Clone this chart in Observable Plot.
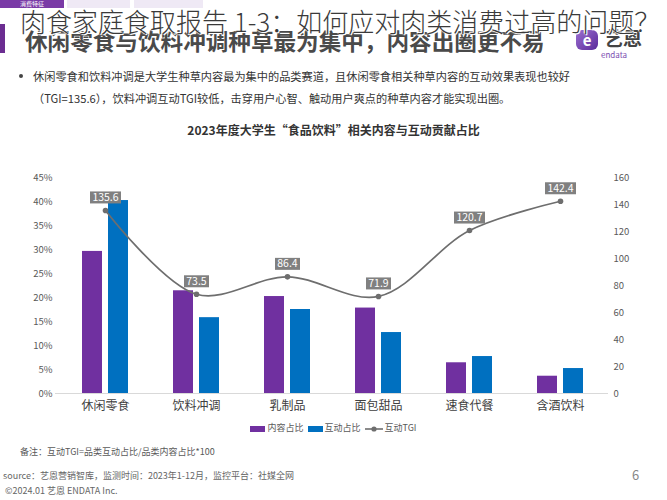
<!DOCTYPE html>
<html>
<head>
<meta charset="utf-8">
<script src="https://cdn.jsdelivr.net/npm/d3@7"></script>
<script src="https://cdn.jsdelivr.net/npm/@observablehq/plot@0.6"></script>
<style>
  html, body { margin:0; padding:0; background:#fff; }
  body { width:667px; height:500px; position:relative; overflow:hidden;
         font-family:"Noto Sans CJK SC","Noto Sans",sans-serif; color:#333; }
  .abs { position:absolute; white-space:nowrap; }
  .tab { position:absolute; top:0; height:8px; font-size:6px; line-height:8px; text-align:center; }
  .sw { display:inline-block; width:15px; height:6px; vertical-align:middle; margin-right:2px; }
</style>
</head>
<body>
<div class="tab" style="left:0;width:64px;background:#7a3aa6;color:#fff;">消费特征</div>
<div class="tab" style="left:67px;width:63px;background:#efe9f5;"></div>
<div class="tab" style="left:134px;width:69px;background:#efe9f5;"></div>
<div class="abs" style="left:0;top:24px;width:5px;height:29px;background:#6b2d91;"></div>
<div class="abs" style="left:25px;top:28px;font-size:22.6px;line-height:26px;font-weight:700;color:#4a4a4a;">休闲零食与饮料冲调种草最为集中，内容出圈更不易</div>
<div class="abs" style="left:576px;top:30px;width:22px;height:20px;border-radius:6px;background:linear-gradient(135deg,#9b6fd0,#5b2a9a);color:#fff;font-size:15px;line-height:19px;text-align:center;font-weight:700;">e</div>
<div class="abs" style="left:604px;top:27px;font-size:19px;line-height:22px;font-weight:700;color:#444;">艺恩</div>
<div class="abs" style="left:601px;top:50px;font-size:8px;line-height:9px;color:#7a4bb0;">endata</div>

<div class="abs" style="left:19px;top:74px;width:4px;height:4px;border-radius:2px;background:#444;"></div>
<div class="abs" style="left:33px;top:65px;font-size:11.2px;line-height:22px;color:#333;">休闲零食和饮料冲调是大学生种草内容最为集中的品类赛道，且休闲零食相关种草内容的互动效果表现也较好<br>（TGI=135.6），饮料冲调互动TGI较低，击穿用户心智、触动用户爽点的种草内容才能实现出圈。</div>

<div class="abs" style="left:0;width:667px;top:122px;text-align:center;font-size:12px;line-height:16px;font-weight:700;color:#333;">2023年度大学生“食品饮料”相关内容与互动贡献占比</div>

<div id="chart" class="abs" style="left:0;top:150px;"></div>

<div id="legend" class="abs" style="left:0;width:667px;top:422px;text-align:center;font-size:9px;line-height:12px;color:#595959;"></div>

<div class="abs" style="left:20px;top:446px;font-size:9px;line-height:12px;color:#595959;">备注：互动TGI=品类互动占比/品类内容占比*100</div>
<div class="abs" style="left:3px;top:470px;font-size:9px;line-height:12px;color:#666;">source：艺恩营销智库，监测时间：2023年1-12月，监控平台：社媒全网</div>
<div class="abs" style="left:632px;top:467px;font-size:13px;line-height:16px;color:#888;">6</div>
<div class="abs" style="left:5px;top:485px;font-size:9px;line-height:12px;color:#666;">©2024.01  艺恩 ENDATA Inc.</div>

<div class="abs" style="left:20px;top:7px;font-size:26px;line-height:28px;font-weight:300;color:#3a3a3a;text-shadow:0 0 2px #fff,0 0 2px #fff,1px 1px 0 #fff,-1px -1px 0 #fff;">肉食家庭食取报告 1-3：如何应对肉类消费过高的问题？</div>

<script>
const categories = ["休闲零食","饮料冲调","乳制品","面包甜品","速食代餐","含酒饮料"];
const contentShare = [29.6, 21.4, 20.2, 17.8, 6.4, 3.6];
const interactShare = [40.2, 15.8, 17.5, 12.7, 7.7, 5.2];
const tgi = [135.6, 73.5, 86.4, 71.9, 120.7, 142.4];
const leftTicks = [0, 5, 10, 15, 20, 25, 30, 35, 40, 45];
const rightTicks = [0, 20, 40, 60, 80, 100, 120, 140, 160];
const seriesNames = ["内容占比", "互动占比", "互动TGI"];

const PURPLE = "#7030a0", BLUE = "#0070c0", GREY = "#6e6e6e", BOX = "#808080";
const LEFT_MAX = 45, RIGHT_MAX = 160;
const toLeft = v => v * LEFT_MAX / RIGHT_MAX;

const data = categories.map((c, i) => ({
  cat: c, content: contentShare[i], interact: interactShare[i], tgi: tgi[i],
  label: tgi[i].toFixed(1)
}));

const boxSymbol = w => ({ draw(ctx) { ctx.rect(-w / 2, -6, w, 12); } });

const chart = Plot.plot({
  width: 667, height: 270,
  marginTop: 27, marginBottom: 27, marginLeft: 58, marginRight: 59,
  style: { fontFamily: "'Noto Sans CJK SC','Noto Sans',sans-serif", color: "#595959", background: "transparent" },
  x: { domain: categories, paddingInner: 0.49, paddingOuter: 0.245, label: null },
  y: { domain: [0, LEFT_MAX], label: null },
  marks: [
    Plot.ruleY([0], { stroke: "#d9d9d9", strokeWidth: 1.2, insetLeft: -3 }),
    Plot.barY(data, { x: "cat", y: "content", fill: PURPLE, insetRight: 26 }),
    Plot.barY(data, { x: "cat", y: "interact", fill: BLUE, insetLeft: 26 }),
    Plot.line(data, { x: "cat", y: d => toLeft(d.tgi), curve: "catmull-rom", stroke: GREY, strokeWidth: 1.7 }),
    Plot.dot(data, { x: "cat", y: d => toLeft(d.tgi), r: 2.8, fill: GREY }),
    Plot.dot(data.filter(d => d.label.length > 4), { x: "cat", y: d => toLeft(d.tgi), dy: -13, symbol: boxSymbol(31), fill: BOX }),
    Plot.dot(data.filter(d => d.label.length <= 4), { x: "cat", y: d => toLeft(d.tgi), dy: -13, symbol: boxSymbol(25), fill: BOX }),
    Plot.text(data, { x: "cat", y: d => toLeft(d.tgi), dy: -13, text: "label", fill: "#fff", fontSize: 10.5 }),
    Plot.axisY({ ticks: leftTicks, tickFormat: d => d + "%", tickSize: 0, tickPadding: 6, fontSize: 9.5, label: null }),
    Plot.text(rightTicks, { y: d => toLeft(d), text: d => String(d), frameAnchor: "right", textAnchor: "start", dx: 5, fontSize: 9.5, fill: "#595959" }),
    Plot.axisX({ tickSize: 0, tickPadding: 8, fontSize: 12, fill: "#404040", label: null })
  ]
});
document.getElementById("chart").appendChild(chart);

const legend = document.getElementById("legend");
legend.innerHTML =
  `<span class="sw" style="background:${PURPLE}"></span>${seriesNames[0]}` +
  `<span class="sw" style="background:${BLUE};margin-left:4px"></span>${seriesNames[1]}` +
  `<svg width="18" height="8" style="vertical-align:middle;margin:0 2px 0 4px"><line x1="0" y1="4" x2="18" y2="4" stroke="${GREY}" stroke-width="1.6"/><circle cx="9" cy="4" r="2.6" fill="${GREY}"/></svg>${seriesNames[2]}`;
</script>
</body>
</html>
